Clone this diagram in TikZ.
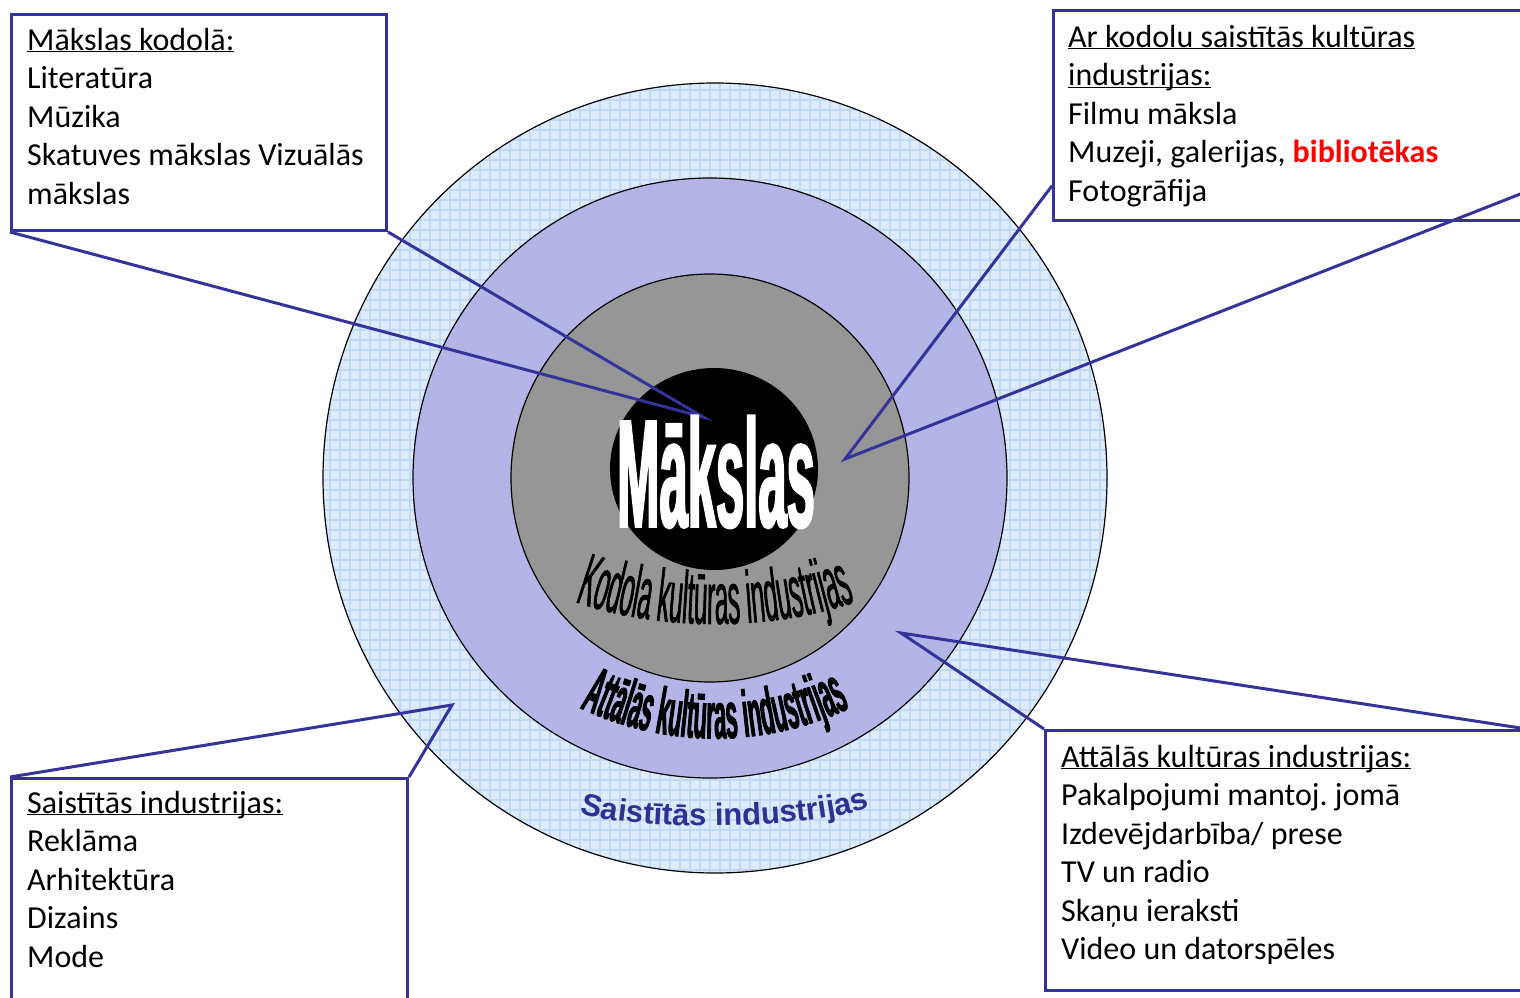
\documentclass[tikz,border=0pt]{standalone}
\usepackage{fontspec}
\setmainfont{Carlito}
\newfontfamily\narrowsans[FakeStretch=0.33,FakeBold=1.2]{Liberation Sans}
\newfontfamily\narrowlight[FakeStretch=0.33,FakeBold=0.8]{Liberation Sans}
\newfontfamily\ringsans{Liberation Sans}
\usetikzlibrary{decorations.text,calc}
\definecolor{calloutblue}{RGB}{51,51,153}
\definecolor{ringblue}{RGB}{46,49,146}
\definecolor{outerfill}{RGB}{221,235,251}
\definecolor{outergrid}{RGB}{192,217,247}
\definecolor{middlefill}{RGB}{180,180,230}
\definecolor{innerfill}{RGB}{150,150,150}
\newcommand{\boxhead}[1]{\underline{\smash{#1}}}
\frenchspacing
\tikzset{
  callbox/.style={draw=calloutblue, line width=3pt, fill=white, inner sep=0pt, anchor=north west},
  wedge/.style={draw=calloutblue, line width=3pt, line join=miter},
  boxtext/.style={anchor=north west, align=left, inner sep=0pt, font=\fontsize{32}{38.5}\selectfont},
  ring/.style={draw=black, line width=1.2pt}
}

\begin{document}
\begin{tikzpicture}[x=1pt,y=-1pt]
\useasboundingbox (0,0) rectangle (1520,998);
\clip (0,0) rectangle (1520,998);

% rings
\fill[outerfill] (715,478) ellipse [x radius=392, y radius=395];
\begin{scope}
  \clip (715,478) ellipse [x radius=392, y radius=395];
  \draw[outergrid, line width=1.2pt] (300,60) grid[step=10pt] (1130,900);
\end{scope}
\draw[ring] (715,478) ellipse [x radius=392, y radius=395];
\draw[ring, fill=middlefill] (710,478) ellipse [x radius=297, y radius=300];
\draw[ring, fill=innerfill] (710,478) ellipse [x radius=199, y radius=204];
\fill[black] (714,469) ellipse [x radius=104, y radius=101];

% callouts
\node[callbox, minimum width=375pt, minimum height=216pt] (core-box) at (10,13) {};
\node[callbox, minimum width=508pt, minimum height=210pt] (linked-box) at (1052,9) {};
\node[callbox, minimum width=396pt, minimum height=300pt] (related-box) at (10,777) {};
\node[callbox, minimum width=520pt, minimum height=260pt] (distant-box) at (1044,729) {};

\coordinate (core-tip) at (703,417);
\coordinate (linked-tip) at (845,459);
\coordinate (related-tip) at (452,705);
\coordinate (distant-tip) at (901,633);
\coordinate (distant-end) at (1527,729);

\draw[wedge] (core-box.south west) -- (core-tip) -- (core-box.south east);
\draw[wedge] ($(linked-box.north west)!0.83!(linked-box.south west)$) -- (linked-tip)
  -- ($(linked-box.north east)!0.79!(linked-box.south east)$);
\draw[wedge] (related-box.north west) -- (related-tip) -- (related-box.north east);
\draw[wedge] (distant-box.north west) -- (distant-tip) -- (distant-end);

% ring labels
\node[text=white, anchor=base, inner sep=0pt] (arts) at (716,527)
  {\narrowsans\bfseries\fontsize{154}{154}\selectfont Mākslas};
\path[decorate, decoration={text along path, text align=center,
  text={|\narrowlight\fontsize{74}{74}\selectfont|Kodola kultūras industrijas}}]
  (570,600) .. controls (655,632) and (775,632) .. (860,600);
\path[decorate, decoration={text along path, text align=center,
  text={|\narrowsans\bfseries\fontsize{66}{66}\selectfont|Attālās kultūras industrijas}}]
  (578,707) .. controls (665,749) and (765,749) .. (852,707);
\path[decorate, decoration={text along path, text align=center, text color=ringblue,
  text={|\ringsans\bfseries\fontsize{31}{31}\selectfont|Saistītās industrijas}}]
  (578,812) .. controls (625,832) and (820,830) .. (872,806);

% callout texts
\node[boxtext] (core-text) at (27,50)
  {\boxhead{Mākslas kodolā:}\\ Literatūra\\ Mūzika\\ Skatuves mākslas Vizuālās\\ mākslas};
\node[boxtext] (linked-text) at (1068,47)
  {\boxhead{Ar kodolu saistītās kultūras}\\ \boxhead{industrijas:}\\ Filmu māksla\\
   Muzeji, galerijas, \textcolor{red}{\textbf{bibliotēkas}}\\ Fotogrāfija};
\node[boxtext] (related-text) at (27,813)
  {\boxhead{Saistītās industrijas:}\\ Reklāma\\ Arhitektūra\\ Dizains\\ Mode};
\node[boxtext] (distant-text) at (1061,767)
  {\boxhead{Attālās kultūras industrijas:}\\ Pakalpojumi mantoj. jomā\\ Izdevējdarbība/ prese\\
   TV un radio\\ Skaņu ieraksti\\ Video un datorspēles};
\end{tikzpicture}
\end{document}
